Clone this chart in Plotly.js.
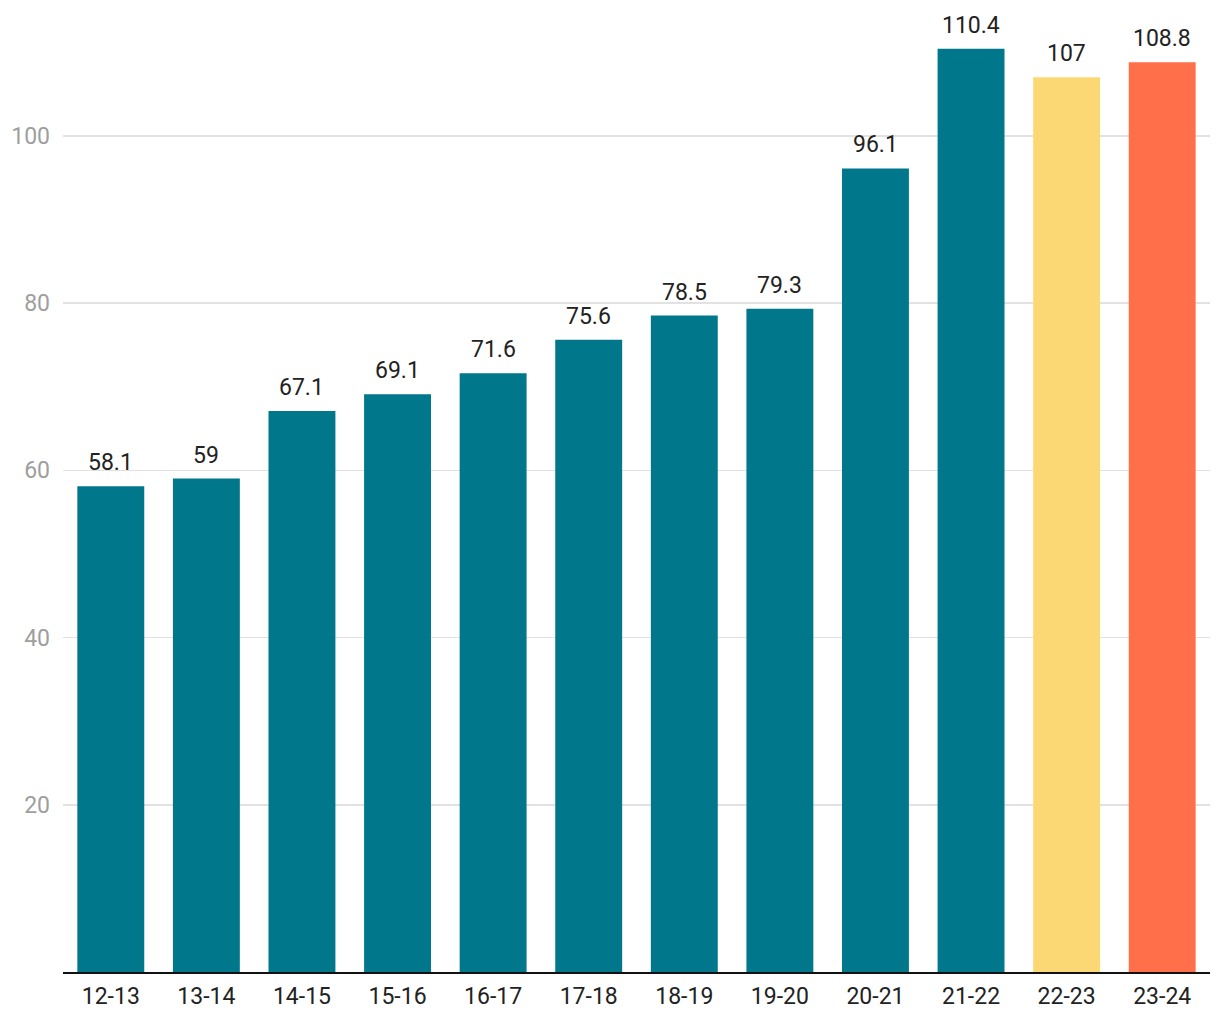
<!DOCTYPE html>
<html>
<head>
<meta charset="utf-8">
<script src="https://cdn.plot.ly/plotly-3.0.1.min.js"></script>
<style>html,body{margin:0;padding:0;background:#fff;}#chart{width:1220px;height:1020px;}</style>
</head>
<body>
<div id="chart"></div>
<script>
const seasons = ["12-13","13-14","14-15","15-16","16-17","17-18","18-19","19-20","20-21","21-22","22-23","23-24"];
const values = [58.1, 59, 67.1, 69.1, 71.6, 75.6, 78.5, 79.3, 96.1, 110.4, 107, 108.8];
const valueLabels = ["58.1","59","67.1","69.1","71.6","75.6","78.5","79.3","96.1","110.4","107","108.8"];
const barColors = ["#00778B","#00778B","#00778B","#00778B","#00778B","#00778B","#00778B","#00778B","#00778B","#00778B","#FCD874","#FF6F4A"];
const yTicks = [20, 40, 60, 80, 100];

const trace = {
  type: "bar",
  x: seasons,
  y: values,
  marker: {color: barColors, line: {width: 0}},
  hoverinfo: "x+y"
};

const annotations = seasons.map((s, i) => ({
  x: s, y: values[i], text: valueLabels[i],
  xref: "x", yref: "y", showarrow: false,
  yanchor: "bottom", yshift: 8,
  font: {family: "Roboto", size: 23, color: "#222222"}
}));

const layout = {
  width: 1220, height: 1020,
  margin: {l: 63, r: 10, t: 12, b: 48},
  paper_bgcolor: "#ffffff", plot_bgcolor: "#ffffff",
  bargap: 0.3,
  showlegend: false,
  font: {family: "Roboto", size: 23, color: "#222222"},
  xaxis: {
    type: "category",
    showline: true, linecolor: "#111111", linewidth: 2,
    showgrid: false, ticks: "",
    tickfont: {family: "Roboto", size: 23, color: "#222222"},
    ticklabelstandoff: 2
  },
  yaxis: {
    range: [0, 114.8],
    tickvals: yTicks,
    ticktext: yTicks.map(String),
    showgrid: true, gridcolor: "#e2e2e2", gridwidth: 1.5,
    zeroline: false, showline: false, ticks: "",
    tickfont: {family: "Roboto", size: 23, color: "#9e9e9e"},
    ticklabelstandoff: 12
  },
  annotations: annotations
};

Plotly.newPlot("chart", [trace], layout, {displayModeBar: false, staticPlot: true});
</script>
</body>
</html>
